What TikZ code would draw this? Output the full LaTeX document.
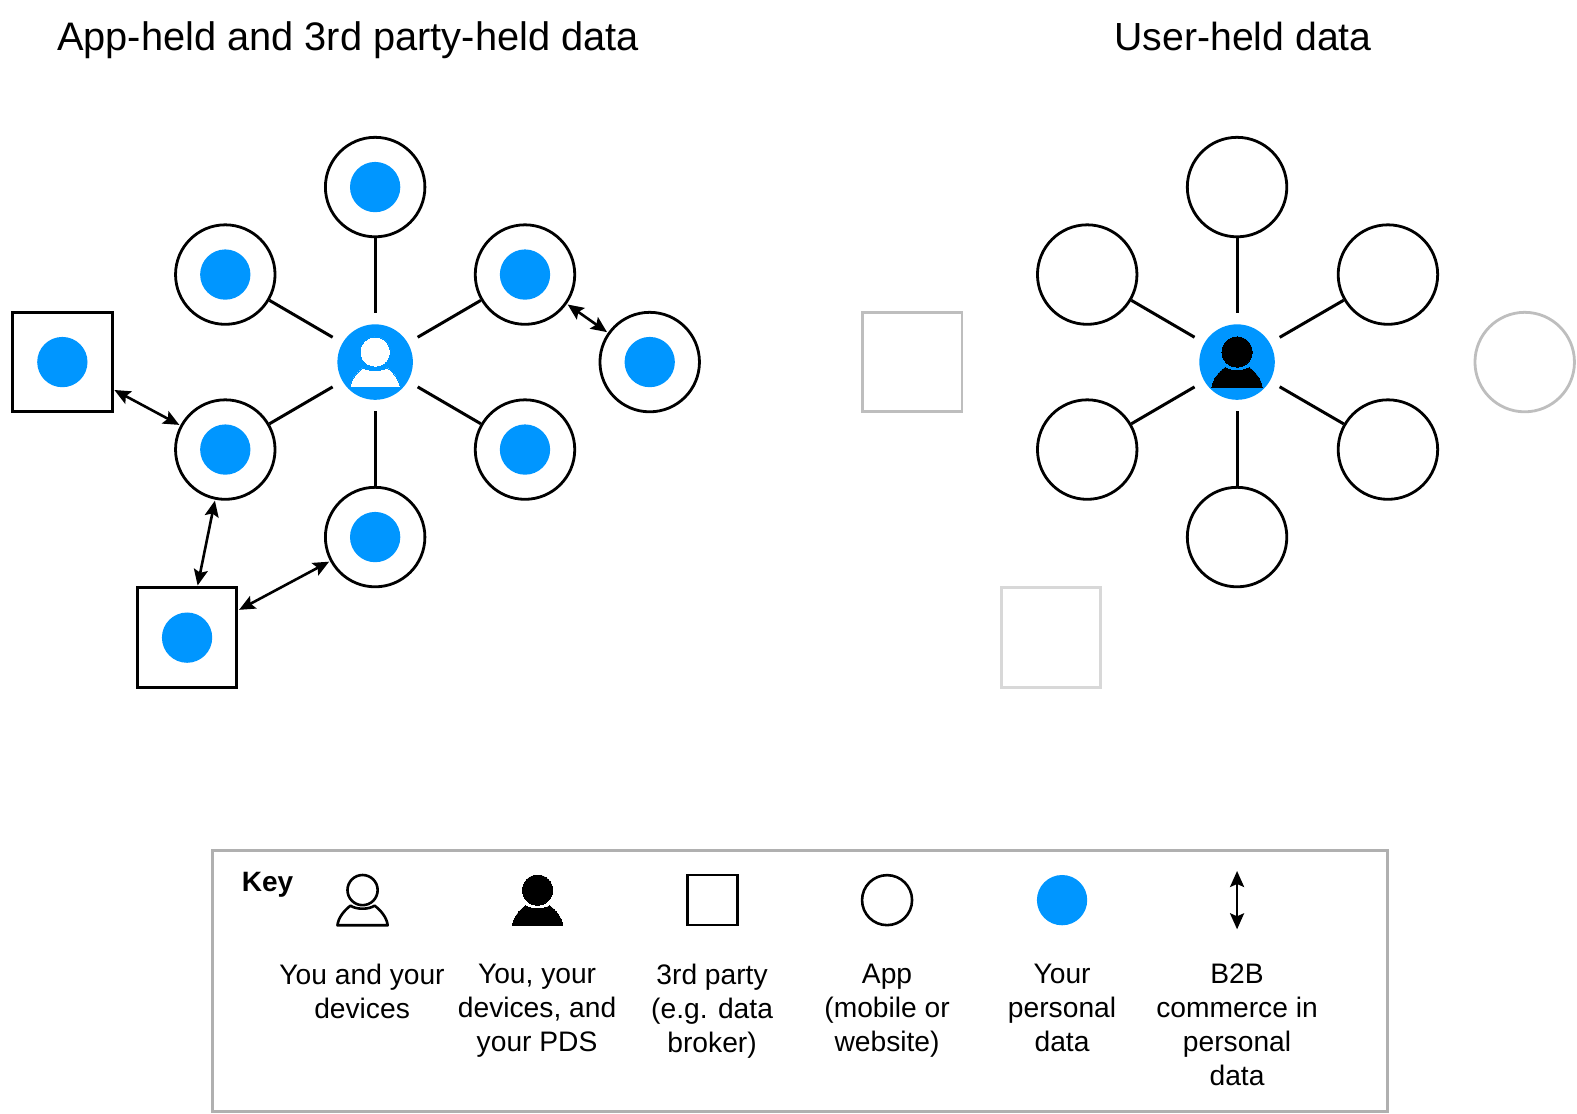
\documentclass[tikz,border=0pt]{standalone}
\usepackage{fontspec}
\setmainfont{Liberation Sans}
\usetikzlibrary{arrows.meta}
\definecolor{pblue}{HTML}{0096FF}
\definecolor{keygrey}{HTML}{B0B0B0}
\definecolor{ghostA}{HTML}{BEBEBE}
\definecolor{ghostB}{HTML}{D8D8D8}
\tikzset{
  app/.style={circle,draw=black,line width=2.8pt,minimum size=99.5pt,inner sep=0pt,fill=white},
  party/.style={rectangle,draw=black,line width=2.8pt,minimum size=99.5pt,inner sep=0pt,fill=white},
  datum/.style={circle,fill=pblue,minimum size=50.3pt,inner sep=0pt,outer sep=0pt},
  hub/.style={circle,fill=pblue,minimum size=75.5pt,inner sep=0pt,outer sep=0pt},
  hubgap/.style={circle,minimum size=98.5pt,inner sep=0pt,outer sep=0pt},
  spoke/.style={line width=3pt,black},
  tipend/.tip={Stealth[length=16pt,width=14pt,inset=3pt]},
  trade/.style={line width=2.6pt,black,tipend-tipend,shorten >=1pt,shorten <=1pt},
  title/.style={font=\fontsize{39.8}{44}\selectfont,inner sep=0pt,anchor=base},
  keytext/.style={font=\fontsize{28.2}{34}\selectfont,align=center,anchor=north,inner sep=0pt},
  keyicon/.style={line width=2.6pt},
  pics/person/.style n args={3}{code={
    \path[draw=#1,fill=#2,line width=#3,line join=round]
      (-25,25) .. controls (-24,17) and (-18,10) .. (-12,5.5)
      .. controls (-6,9.5) and (6,9.5) .. (12,5.5)
      .. controls (18,10) and (24,17) .. (25,25) -- cycle;
    \path[draw=#1,fill=#2,line width=#3] (0,-10) circle[radius=15];
  }},
}
\begin{document}
\begin{tikzpicture}[x=1.00574pt,y=-1.00574pt]
\useasboundingbox (0,0) rectangle (1568,1106.66);
% titles
\node[title] (tleft) at (346,50) {App-held and 3rd party-held data};
\node[title,font=\fontsize{39.2}{44}\selectfont] (tright) at (1236,50) {User-held data};
% left cluster
\foreach \n/\x/\y in {la/373/186,lb/224/273,lc/522/273,ld/224/447,le/522/447,lf/373/534,lg/646/360}{
  \node[app] (\n) at (\x,\y) {};
  \node[datum] (\n dot) at (\x,\y) {};
}
\foreach \n/\x/\y in {lp/62/360,lq/186/634}{
  \node[party] (\n) at (\x,\y) {};
  \node[datum] (\n dot) at (\x,\y) {};
}
\node[hub] (lhub) at (373,360) {};
\node[hubgap] (lgap) at (373,360) {};
\pic at (373,360) {person={pblue}{white}{0pt}};
\foreach \n in {la,lb,lc,ld,le,lf}{\draw[spoke] (\n) -- (lgap);}
\draw[trade] (lp) -- (ld);
\draw[trade] (ld) -- (lq);
\draw[trade] (lq) -- (lf);
\draw[trade] (lc) -- (lg);
% right cluster
\foreach \n/\x/\y in {ra/1230/186,rb/1081/273,rc/1380/273,rd/1081/447,re/1380/447,rf/1230/534}{
  \node[app] (\n) at (\x,\y) {};
}
\node[hub] (rhub) at (1230,360) {};
\node[hubgap] (rgap) at (1230,360) {};
\pic at (1230,360) {person={black}{black}{0pt}};
\foreach \n in {ra,rb,rc,rd,re,rf}{\draw[spoke] (\n) -- (rgap);}
\node[party,draw=ghostA] (rp) at (907,360) {};
\node[party,draw=ghostB] (rq) at (1045,634) {};
\node[app,draw=ghostA] (rg) at (1516,360) {};
% key
\node[rectangle,draw=keygrey,line width=3pt,minimum width=1169pt*1.00574,minimum height=259pt*1.00574,inner sep=0pt] (keybox) at (795.5,975.5) {};
\node[font=\bfseries\fontsize{28}{32}\selectfont,inner sep=0pt] (keyword) at (266,880) {Key};
\pic at (360.5,895) {person={black}{white}{2.6pt}};
\pic at (534.5,895) {person={black}{black}{0pt}};
\node[rectangle,draw=black,keyicon,minimum size=50pt,inner sep=0pt] (ksq) at (708.5,895) {};
\node[circle,draw=black,keyicon,minimum size=50pt,inner sep=0pt] (kci) at (882,895) {};
\node[datum] (kdot) at (1056,895) {};
\coordinate (kup) at (1230,866);
\coordinate (kdn) at (1230,924);
\draw[trade,shorten >=0pt,shorten <=0pt] (kup) -- (kdn);
\node[keytext] (t1) at (360,958) {You and your\\devices};
\node[keytext] (t2) at (534,958) {You, your\\devices, and\\your PDS};
\node[keytext] (t3) at (708,958) {3rd party\\(e.g. data\\broker)};
\node[keytext] (t4) at (882,958) {App\\(mobile or\\website)};
\node[keytext] (t5) at (1056,958) {Your\\personal\\data};
\node[keytext] (t6) at (1230,958) {B2B\\commerce in\\personal\\data};
\end{tikzpicture}
\end{document}
